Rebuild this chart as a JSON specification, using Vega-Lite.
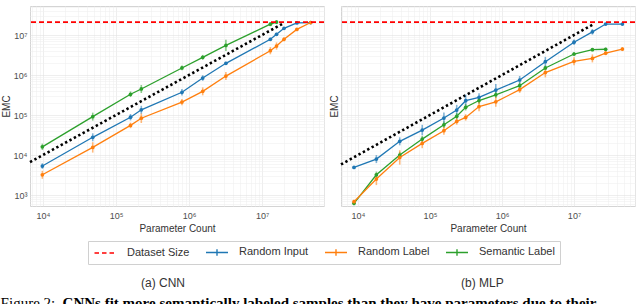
{
  "$schema": "https://vega.github.io/schema/vega-lite/v6.json",
  "padding": {"left": 0, "top": 2, "right": 0, "bottom": 0},
  "config": {
    "font": "Liberation Sans",
    "view": {"stroke": "#d4d4d4", "strokeWidth": 1},
    "axis": {"labelFontSize": 9, "labelColor": "#4d4d4d", "titleFontSize": 10, "titleFontWeight": "normal", "titleColor": "#333333", "ticks": false, "domain": false, "gridWidth": 0.6, "labelOverlap": false, "labelFlush": false}
  },
  "datasets": {
    "limit": [{"series": "Dataset Size", "y": 21000000}],
    "refcnn": [{"x": 6637, "y": 6637}, {"x": 19000000, "y": 19000000}],
    "refmlp": [{"x": 5808, "y": 5808}, {"x": 19000000, "y": 19000000}],
    "cnn": [
      {"series": "Semantic Label", "x": 9800, "y": 16000, "lo": 13300, "hi": 19200},
      {"series": "Semantic Label", "x": 48000, "y": 91000, "lo": 72300, "hi": 114600},
      {"series": "Semantic Label", "x": 158000, "y": 330000, "lo": 281000, "hi": 388000},
      {"series": "Semantic Label", "x": 222000, "y": 447000, "lo": 355000, "hi": 563000},
      {"series": "Semantic Label", "x": 800000, "y": 1500000, "lo": 1307000, "hi": 1722000},
      {"series": "Semantic Label", "x": 1540000, "y": 2770000, "lo": 2413000, "hi": 3180000},
      {"series": "Semantic Label", "x": 3200000, "y": 5500000, "lo": 3986000, "hi": 7590000},
      {"series": "Semantic Label", "x": 13000000, "y": 18600000, "lo": 16580000, "hi": 20870000},
      {"series": "Semantic Label", "x": 15800000, "y": 21000000, "lo": 18720000, "hi": 23560000},
      {"series": "Random Input", "x": 9800, "y": 5300, "lo": 4510, "hi": 6230},
      {"series": "Random Input", "x": 48000, "y": 27700, "lo": 22000, "hi": 34900},
      {"series": "Random Input", "x": 158000, "y": 88000, "lo": 73200, "hi": 105800},
      {"series": "Random Input", "x": 222000, "y": 135000, "lo": 107200, "hi": 170000},
      {"series": "Random Input", "x": 800000, "y": 370000, "lo": 308000, "hi": 445000},
      {"series": "Random Input", "x": 1540000, "y": 840000, "lo": 715000, "hi": 987000},
      {"series": "Random Input", "x": 3200000, "y": 1960000, "lo": 1788000, "hi": 2148000},
      {"series": "Random Input", "x": 13000000, "y": 7800000, "lo": 7120000, "hi": 8550000},
      {"series": "Random Input", "x": 15800000, "y": 10400000, "lo": 9490000, "hi": 11400000},
      {"series": "Random Input", "x": 20000000, "y": 14700000, "lo": 13710000, "hi": 15760000},
      {"series": "Random Input", "x": 30000000, "y": 20000000, "lo": 19100000, "hi": 20940000},
      {"series": "Random Input", "x": 46400000, "y": 20500000, "lo": 20040000, "hi": 20980000},
      {"series": "Random Label", "x": 9800, "y": 3200, "lo": 2540, "hi": 4030},
      {"series": "Random Label", "x": 48000, "y": 15500, "lo": 11490, "hi": 20910},
      {"series": "Random Label", "x": 158000, "y": 55000, "lo": 46800, "hi": 64600},
      {"series": "Random Label", "x": 222000, "y": 83000, "lo": 63000, "hi": 109400},
      {"series": "Random Label", "x": 800000, "y": 210000, "lo": 174700, "hi": 252400},
      {"series": "Random Label", "x": 1540000, "y": 390000, "lo": 309800, "hi": 491000},
      {"series": "Random Label", "x": 3200000, "y": 940000, "lo": 746600, "hi": 1183500},
      {"series": "Random Label", "x": 13000000, "y": 4050000, "lo": 3293000, "hi": 4982000},
      {"series": "Random Label", "x": 15800000, "y": 5300000, "lo": 4309000, "hi": 6519000},
      {"series": "Random Label", "x": 20000000, "y": 7800000, "lo": 6952000, "hi": 8752000},
      {"series": "Random Label", "x": 30000000, "y": 13800000, "lo": 12870000, "hi": 14790000},
      {"series": "Random Label", "x": 46400000, "y": 20500000, "lo": 19580000, "hi": 21460000}
    ],
    "mlp": [
      {"series": "Random Input", "x": 8800, "y": 4900, "lo": 4570, "hi": 5250},
      {"series": "Random Input", "x": 18000, "y": 7900, "lo": 6275, "hi": 9946},
      {"series": "Random Input", "x": 38000, "y": 22000, "lo": 17470, "hi": 27700},
      {"series": "Random Input", "x": 78000, "y": 42000, "lo": 31130, "hi": 56660},
      {"series": "Random Input", "x": 156000, "y": 84000, "lo": 60870, "hi": 115900},
      {"series": "Random Input", "x": 235000, "y": 133000, "lo": 98600, "hi": 179400},
      {"series": "Random Input", "x": 313000, "y": 228000, "lo": 161400, "hi": 322200},
      {"series": "Random Input", "x": 480000, "y": 277000, "lo": 220000, "hi": 348700},
      {"series": "Random Input", "x": 820000, "y": 420000, "lo": 297200, "hi": 593500},
      {"series": "Random Input", "x": 1760000, "y": 750000, "lo": 595700, "hi": 944200},
      {"series": "Random Input", "x": 4000000, "y": 2150000, "lo": 1631000, "hi": 2834000},
      {"series": "Random Input", "x": 10000000, "y": 6600000, "lo": 5617000, "hi": 7755000},
      {"series": "Random Input", "x": 18000000, "y": 12000000, "lo": 10210000, "hi": 14100000},
      {"series": "Random Input", "x": 27500000, "y": 18800000, "lo": 17960000, "hi": 19690000},
      {"series": "Random Input", "x": 47000000, "y": 18800000, "lo": 17960000, "hi": 19690000},
      {"series": "Semantic Label", "x": 8800, "y": 620, "lo": 553, "hi": 696},
      {"series": "Semantic Label", "x": 18000, "y": 3200, "lo": 2662, "hi": 3846},
      {"series": "Semantic Label", "x": 38000, "y": 10000, "lo": 8318, "hi": 12020},
      {"series": "Semantic Label", "x": 78000, "y": 25000, "lo": 20800, "hi": 30050},
      {"series": "Semantic Label", "x": 156000, "y": 57000, "lo": 47420, "hi": 68510},
      {"series": "Semantic Label", "x": 235000, "y": 93000, "lo": 77360, "hi": 111800},
      {"series": "Semantic Label", "x": 313000, "y": 156000, "lo": 129800, "hi": 187500},
      {"series": "Semantic Label", "x": 480000, "y": 230000, "lo": 191300, "hi": 276500},
      {"series": "Semantic Label", "x": 820000, "y": 320000, "lo": 266200, "hi": 384600},
      {"series": "Semantic Label", "x": 1760000, "y": 540000, "lo": 449200, "hi": 649100},
      {"series": "Semantic Label", "x": 4000000, "y": 1500000, "lo": 1307000, "hi": 1722000},
      {"series": "Semantic Label", "x": 10000000, "y": 3350000, "lo": 2986000, "hi": 3759000},
      {"series": "Semantic Label", "x": 18000000, "y": 4300000, "lo": 3924000, "hi": 4713000},
      {"series": "Semantic Label", "x": 27500000, "y": 4400000, "lo": 4015000, "hi": 4822000},
      {"series": "Random Label", "x": 8800, "y": 680, "lo": 606, "hi": 763},
      {"series": "Random Label", "x": 18000, "y": 2500, "lo": 1769, "hi": 3533},
      {"series": "Random Label", "x": 38000, "y": 8700, "lo": 5746, "hi": 13170},
      {"series": "Random Label", "x": 78000, "y": 19500, "lo": 14800, "hi": 25700},
      {"series": "Random Label", "x": 156000, "y": 40500, "lo": 32170, "hi": 50990},
      {"series": "Random Label", "x": 235000, "y": 69000, "lo": 57400, "hi": 82940},
      {"series": "Random Label", "x": 313000, "y": 87000, "lo": 72380, "hi": 104600},
      {"series": "Random Label", "x": 480000, "y": 163000, "lo": 123700, "hi": 214800},
      {"series": "Random Label", "x": 820000, "y": 213000, "lo": 161600, "hi": 280700},
      {"series": "Random Label", "x": 1760000, "y": 430000, "lo": 357700, "hi": 516900},
      {"series": "Random Label", "x": 4000000, "y": 1150000, "lo": 872500, "hi": 1516000},
      {"series": "Random Label", "x": 10000000, "y": 2200000, "lo": 1747000, "hi": 2770000},
      {"series": "Random Label", "x": 18000000, "y": 2600000, "lo": 2065000, "hi": 3273000},
      {"series": "Random Label", "x": 27500000, "y": 3500000, "lo": 3119000, "hi": 3927000},
      {"series": "Random Label", "x": 47000000, "y": 4450000, "lo": 3966000, "hi": 4993000}
    ]
  },
  "title": {"text": "Figure 2:", "orient": "bottom", "anchor": "start", "frame": "bounds", "font": "Liberation Serif", "fontSize": 15, "fontWeight": "normal", "color": "#000000", "offset": 0, "dy": -15},
  "resolve": {"scale": {"color": "shared"}, "legend": {"color": "shared"}},
  "vconcat": [
    {
      "title": {"text": "CNNs fit more semantically labeled samples than they have parameters due to their", "orient": "bottom", "anchor": "start", "frame": "bounds", "font": "Liberation Serif", "fontSize": 15, "fontWeight": "bold", "color": "#000000", "offset": 6, "dx": 62},
      "resolve": {"scale": {"color": "shared"}, "legend": {"color": "shared"}},
      "spacing": 2,
      "hconcat": [
        {
          "width": 294,
          "height": 200,
          "title": {"text": "(a) CNN", "orient": "bottom", "frame": "bounds", "anchor": "middle", "offset": 45, "fontSize": 12, "fontWeight": "normal", "color": "#333333", "font": "Liberation Sans"},
          "layer": [
            {
              "data": {"name": "refcnn"},
              "mark": {"type": "line", "color": "#000000", "strokeDash": [2.4, 2.6], "strokeWidth": 2.6},
              "encoding": {
                "x": {"field": "x", "type": "quantitative", "scale": {"type": "log", "domain": [6637, 70600000], "nice": false},
                  "axis": {"title": "Parameter Count", "labelPadding": 5, "titlePadding": 3,
                    "values": [7000,8000,9000,10000,20000,30000,40000,50000,60000,70000,80000,90000,100000,200000,300000,400000,500000,600000,700000,800000,900000,1000000,2000000,3000000,4000000,5000000,6000000,7000000,8000000,9000000,10000000,20000000,30000000,40000000,50000000,60000000,70000000],
                    "labelExpr": "datum.value == 10000 ? '10⁴' : datum.value == 100000 ? '10⁵' : datum.value == 1000000 ? '10⁶' : datum.value == 10000000 ? '10⁷' : ''",
                    "gridColor": {"condition": {"test": "abs(log(datum.value)/LN10 - round(log(datum.value)/LN10)) < 0.001", "value": "#e2e2e2"}, "value": "#f0f0f0"}}},
                "y": {"field": "y", "type": "quantitative", "scale": {"type": "log", "domain": [531, 53100000], "nice": false},
                  "axis": {"title": "EMC", "labelPadding": 3, "titlePadding": 2,
                    "values": [600,700,800,900,1000,2000,3000,4000,5000,6000,7000,8000,9000,10000,20000,30000,40000,50000,60000,70000,80000,90000,100000,200000,300000,400000,500000,600000,700000,800000,900000,1000000,2000000,3000000,4000000,5000000,6000000,7000000,8000000,9000000,10000000,20000000,30000000,40000000,50000000],
                    "labelExpr": "datum.value == 1000 ? '10³' : datum.value == 10000 ? '10⁴' : datum.value == 100000 ? '10⁵' : datum.value == 1000000 ? '10⁶' : datum.value == 10000000 ? '10⁷' : ''",
                    "gridColor": {"condition": {"test": "abs(log(datum.value)/LN10 - round(log(datum.value)/LN10)) < 0.001", "value": "#e2e2e2"}, "value": "#f0f0f0"}}}
              }
            },
            {
              "data": {"name": "cnn"},
              "mark": {"type": "rule", "strokeWidth": 1.6, "opacity": 0.55},
              "encoding": {
                "x": {"field": "x", "type": "quantitative"},
                "y": {"field": "lo", "type": "quantitative"},
                "y2": {"field": "hi"},
                "color": {"field": "series", "type": "nominal"}
              }
            },
            {
              "data": {"name": "cnn"},
              "mark": {"type": "line", "strokeWidth": 1.3},
              "encoding": {
                "x": {"field": "x", "type": "quantitative"},
                "y": {"field": "y", "type": "quantitative"},
                "color": {"field": "series", "type": "nominal"}
              }
            },
            {
              "data": {"name": "cnn"},
              "mark": {"type": "point", "filled": true, "size": 14, "opacity": 1},
              "encoding": {
                "x": {"field": "x", "type": "quantitative"},
                "y": {"field": "y", "type": "quantitative"},
                "color": {"field": "series", "type": "nominal"}
              }
            },
            {
              "data": {"name": "limit"},
              "mark": {"type": "rule", "strokeDash": [5, 3], "strokeWidth": 1.8},
              "encoding": {
                "y": {"field": "y", "type": "quantitative"},
                "color": {"field": "series", "type": "nominal",
                  "scale": {"domain": ["Dataset Size", "Random Input", "Random Label", "Semantic Label"], "range": ["#ff0000", "#1f77b4", "#ff7f0e", "#2ca02c"]},
                  "legend": {"orient": "none", "legendX": 58, "legendY": 235, "direction": "horizontal", "title": null,
                    "strokeColor": "#d0d0d0", "padding": 5, "labelFont": "Liberation Sans", "labelFontSize": 11, "labelColor": "#333333",
                    "symbolSize": 100, "symbolOffset": 6, "symbolStrokeWidth": 1.4, "labelOffset": 16, "columnPadding": 13,
                    "encode": {"symbols": {"update": {
                      "shape": {"signal": "datum.value === 'Dataset Size' ? 'M-2.1,0H2.1' : 'M-2.2,0H2.2M0,-0.65V0.65'"},
                      "strokeDash": {"signal": "datum.value === 'Dataset Size' ? [4.5,3] : [1,0]"},
                      "fill": {"value": "transparent"},
                      "stroke": {"scale": "color", "field": "value"},
                      "opacity": {"value": 1}
                    }}}}
                }
              }
            }
          ]
        },
        {
          "width": 294,
          "height": 200,
          "title": {"text": "(b) MLP", "orient": "bottom", "frame": "bounds", "anchor": "middle", "offset": 45, "fontSize": 12, "fontWeight": "normal", "color": "#333333", "font": "Liberation Sans"},
          "layer": [
            {
              "data": {"name": "refmlp"},
              "mark": {"type": "line", "color": "#000000", "strokeDash": [2.4, 2.6], "strokeWidth": 2.6},
              "encoding": {
                "x": {"field": "x", "type": "quantitative", "scale": {"type": "log", "domain": [5808, 70300000], "nice": false},
                  "axis": {"title": "Parameter Count", "labelPadding": 5, "titlePadding": 3,
                    "values": [6000,7000,8000,9000,10000,20000,30000,40000,50000,60000,70000,80000,90000,100000,200000,300000,400000,500000,600000,700000,800000,900000,1000000,2000000,3000000,4000000,5000000,6000000,7000000,8000000,9000000,10000000,20000000,30000000,40000000,50000000,60000000,70000000],
                    "labelExpr": "datum.value == 10000 ? '10⁴' : datum.value == 100000 ? '10⁵' : datum.value == 1000000 ? '10⁶' : datum.value == 10000000 ? '10⁷' : ''",
                    "gridColor": {"condition": {"test": "abs(log(datum.value)/LN10 - round(log(datum.value)/LN10)) < 0.001", "value": "#e2e2e2"}, "value": "#f0f0f0"}}},
                "y": {"field": "y", "type": "quantitative", "scale": {"type": "log", "domain": [531, 53100000], "nice": false},
                  "axis": {"title": "EMC", "labels": false, "titlePadding": 2,
                    "values": [600,700,800,900,1000,2000,3000,4000,5000,6000,7000,8000,9000,10000,20000,30000,40000,50000,60000,70000,80000,90000,100000,200000,300000,400000,500000,600000,700000,800000,900000,1000000,2000000,3000000,4000000,5000000,6000000,7000000,8000000,9000000,10000000,20000000,30000000,40000000,50000000],
                    "gridColor": {"condition": {"test": "abs(log(datum.value)/LN10 - round(log(datum.value)/LN10)) < 0.001", "value": "#e2e2e2"}, "value": "#f0f0f0"}}}
              }
            },
            {
              "data": {"name": "mlp"},
              "mark": {"type": "rule", "strokeWidth": 1.6, "opacity": 0.55},
              "encoding": {
                "x": {"field": "x", "type": "quantitative"},
                "y": {"field": "lo", "type": "quantitative"},
                "y2": {"field": "hi"},
                "color": {"field": "series", "type": "nominal"}
              }
            },
            {
              "data": {"name": "mlp"},
              "mark": {"type": "line", "strokeWidth": 1.3},
              "encoding": {
                "x": {"field": "x", "type": "quantitative"},
                "y": {"field": "y", "type": "quantitative"},
                "color": {"field": "series", "type": "nominal"}
              }
            },
            {
              "data": {"name": "mlp"},
              "mark": {"type": "point", "filled": true, "size": 14, "opacity": 1},
              "encoding": {
                "x": {"field": "x", "type": "quantitative"},
                "y": {"field": "y", "type": "quantitative"},
                "color": {"field": "series", "type": "nominal"}
              }
            },
            {
              "data": {"name": "limit"},
              "mark": {"type": "rule", "strokeDash": [5, 3], "strokeWidth": 1.8},
              "encoding": {
                "y": {"field": "y", "type": "quantitative"},
                "color": {"field": "series", "type": "nominal"}
              }
            }
          ]
        }
      ]
    }
  ]
}
